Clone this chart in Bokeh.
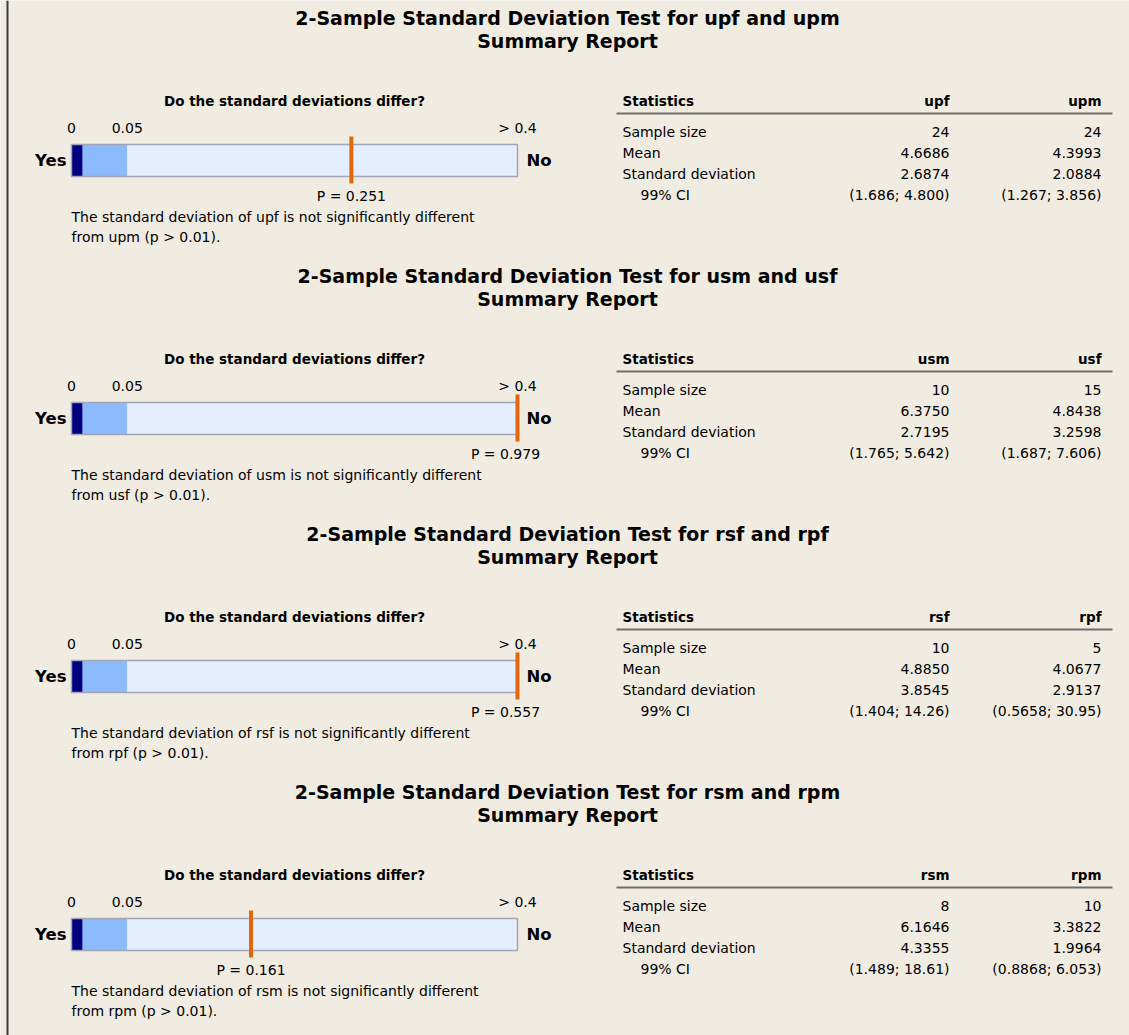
from bokeh.plotting import figure
from bokeh.models import Range1d
from bokeh.core.properties import value
from bokeh.embed import file_html
from bokeh.resources import INLINE

# ---- report data -------------------------------------------------------
var_a = ["upf", "usm", "rsf", "rsm"]
var_b = ["upm", "usf", "rpf", "rpm"]
p_values = [0.251, 0.979, 0.557, 0.161]
n_a = ["24", "10", "10", "8"]
n_b = ["24", "15", "5", "10"]
mean_a = ["4.6686", "6.3750", "4.8850", "6.1646"]
mean_b = ["4.3993", "4.8438", "4.0677", "3.3822"]
sd_a = ["2.6874", "2.7195", "3.8545", "4.3355"]
sd_b = ["2.0884", "3.2598", "2.9137", "1.9964"]
ci_a = [("1.686", "4.800"), ("1.765", "5.642"), ("1.404", "14.26"), ("1.489", "18.61")]
ci_b = [("1.267", "3.856"), ("1.687", "7.606"), ("0.5658", "30.95"), ("0.8868", "6.053")]
alpha = 0.01

# p-value scale of the decision bar
zone_edges = [0.0, 0.01, 0.05, 0.4]
zone_colors = ["#000080", "#8CBAFF", "#E4EEFD"]
scale_labels = ["0", "0.05", "> 0.4"]
scale_label_pos = [0.0, 0.05, 0.4]
row_labels = ["Sample size", "Mean", "Standard deviation", "99% CI"]

# ---- page ---------------------------------------------------------------
W, H = 1129, 1035
BG = "#F0ECE2"
FONT = value("DejaVu Sans")

p = figure(width=W, height=H, x_range=Range1d(0, W), y_range=Range1d(H, 0),
           output_backend="svg", toolbar_location=None, min_border=0)
p.axis.visible = False
p.grid.visible = False
p.outline_line_color = None
p.background_fill_color = BG
p.border_fill_color = BG

# horizontal p-value scale: 0 .. 0.4 spans the bar
BAR_L, BAR_R = 71, 517
px_per_unit = (BAR_R - BAR_L) / zone_edges[-1]
p.extra_x_ranges = {"pv": Range1d(-BAR_L / px_per_unit, (W - BAR_L) / px_per_unit)}


def txt(x, y, s, size="14px", bold=False, align="left", color="#000000",
        rng="default", dx=0):
    p.text(x=[x], y=[y], text=[s], text_font=FONT, text_font_size=size,
           text_font_style="bold" if bold else "normal", text_align=align,
           text_baseline="middle", text_color=color, x_range_name=rng,
           x_offset=dx)


# left frame rule
p.segment(x0=[7], x1=[7], y0=[0], y1=[H], line_color="#3C3C3C", line_width=2)

SECTION = 258
TOP = 17
COL1_R, COL2_R = 949, 1101
LAB_X = 622

for i in range(len(var_a)):
    t = TOP + i * SECTION
    a, b = var_a[i], var_b[i]

    # heading
    txt(567, t, f"2-Sample Standard Deviation Test for {a} and {b}",
        size="19px", bold=True, align="center")
    txt(567, t + 23, "Summary Report", size="19px", bold=True, align="center")

    # decision bar
    txt(294, t + 83, "Do the standard deviations differ?", size="13.5px",
        bold=True, align="center")
    for lab, pos in zip(scale_labels, scale_label_pos):
        txt(pos, t + 110, lab, align="center", rng="pv")
    p.quad(left=zone_edges[:-1], right=zone_edges[1:], top=t + 127,
           bottom=t + 159, fill_color=zone_colors, line_color=None,
           x_range_name="pv")
    p.quad(left=[zone_edges[0]], right=[zone_edges[-1]], top=[t + 127],
           bottom=[t + 159], fill_color=None, line_color="#A2A5B5",
           line_width=1.5, x_range_name="pv")
    txt(zone_edges[0], t + 143, "Yes", size="16.5px", bold=True,
        align="right", rng="pv", dx=-5)
    txt(zone_edges[-1], t + 143, "No", size="16.5px", bold=True,
        align="left", rng="pv", dx=9)

    pv = p_values[i]
    mark = min(pv, zone_edges[-1])
    p.segment(x0=[mark], x1=[mark], y0=[t + 119], y1=[t + 166],
              line_color="#E2660E", line_width=4, x_range_name="pv")
    clamp = pv >= zone_edges[-1]
    txt(mark, t + 178, f"P = {pv:.3f}", align="center", rng="pv",
        dx=-12 if clamp else 0)

    verdict = "not significantly" if pv > alpha else "significantly"
    txt(71, t + 199, f"The standard deviation of {a} is {verdict} different")
    txt(71, t + 219.5, f"from {b} (p > {alpha:.2f}).")

    # statistics table
    txt(LAB_X, t + 83, "Statistics", size="13.5px", bold=True)
    txt(COL1_R, t + 83, a, size="13.5px", bold=True, align="right")
    txt(COL2_R, t + 83, b, size="13.5px", bold=True, align="right")
    p.segment(x0=[616], x1=[1112], y0=[t + 96], y1=[t + 96],
              line_color="#6E6E6E", line_width=2)
    col_a = [n_a[i], mean_a[i], sd_a[i], f"({ci_a[i][0]}; {ci_a[i][1]})"]
    col_b = [n_b[i], mean_b[i], sd_b[i], f"({ci_b[i][0]}; {ci_b[i][1]})"]
    for r, lab in enumerate(row_labels):
        y = t + 114 + r * 21
        txt(LAB_X + (18 if lab == "99% CI" else 0), y, lab)
        txt(COL1_R, y, col_a[r], align="right")
        txt(COL2_R, y, col_b[r], align="right")

open("out.html", "w").write(file_html(p, INLINE))
